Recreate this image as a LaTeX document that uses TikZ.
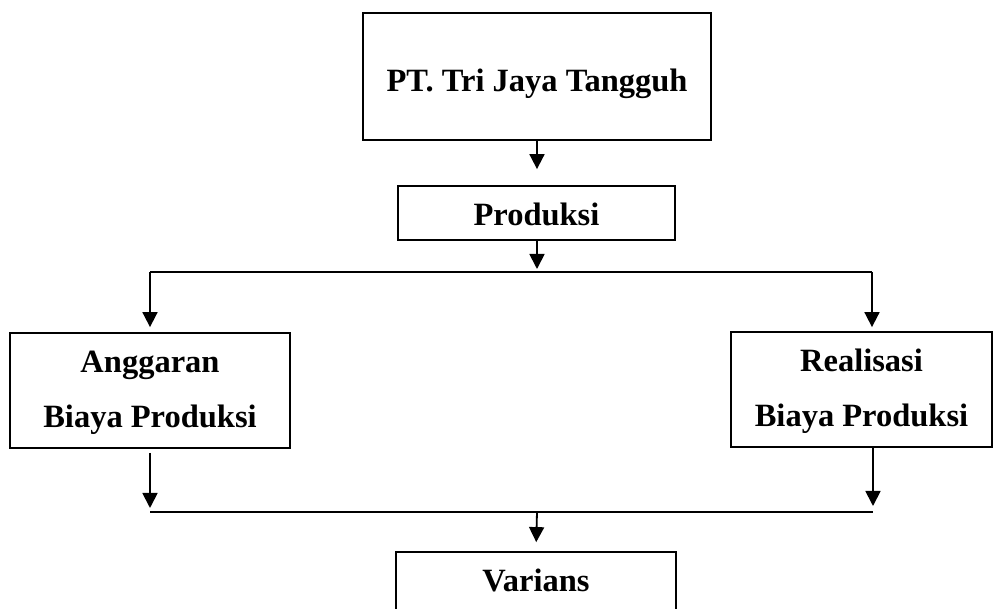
\documentclass[tikz,border=0pt]{standalone}
\usepackage{fontspec}
\setmainfont{Liberation Serif}
\usetikzlibrary{arrows.meta}
\begin{document}
\begin{tikzpicture}[x=1pt,y=-1pt,
  box/.style={draw, line width=1.8pt, inner sep=0pt, align=center,
    font=\bfseries\fontsize{32.5}{55}\selectfont},
  conn/.style={line width=1.8pt},
  arr/.style={line width=1.8pt, -{Triangle[length=15pt,width=15pt]}}]
\useasboundingbox (0,0) rectangle (997,609);
\clip (0,0) rectangle (997,609);
% boxes
\node[box, minimum width=348pt, minimum height=127pt, text height=31pt, text depth=0pt] (pt) at (537,76.5) {PT. Tri Jaya Tangguh};
\node[box, minimum width=277pt, minimum height=54pt, text height=26pt, text depth=0pt] (prod) at (536.5,213) {Produksi};
\node[box, minimum width=280pt, minimum height=115pt, text height=77pt, text depth=2pt] (ang) at (150,390.5) {Anggaran\\Biaya Produksi};
\node[box, minimum width=261pt, minimum height=115pt, text height=77pt, text depth=2pt] (real) at (861.5,389.5) {Realisasi\\Biaya Produksi};
\node[box, minimum width=280pt, minimum height=68pt, text height=22pt, text depth=10pt] (var) at (536,586) {Varians};
% junction coordinates
\coordinate (tl) at (150,272);
\coordinate (tm) at (537,272);
\coordinate (tr) at (872,272);
\coordinate (bl) at (150,512);
\coordinate (bm) at (537,512);
\coordinate (br) at (873,512);
% connectors
\draw[arr, shorten >=16pt] (pt.south) -- (pt.south |- prod.north);
\draw[arr, shorten >=3pt] (tm |- prod.south) -- (tm);
\draw[conn] (tl) -- (tr);
\draw[arr, shorten >=5pt] (tl) -- (ang.north);
\draw[arr, shorten >=4pt] (tr) -- (tr |- real.north);
\draw[arr, shorten <=4pt, shorten >=4pt] (ang.south) -- (bl);
\draw[arr, shorten >=6pt] (br |- real.south) -- (br);
\draw[conn] (bl) -- (br);
\draw[arr, shorten >=9pt] (bm) -- (var.north);
\end{tikzpicture}
\end{document}
